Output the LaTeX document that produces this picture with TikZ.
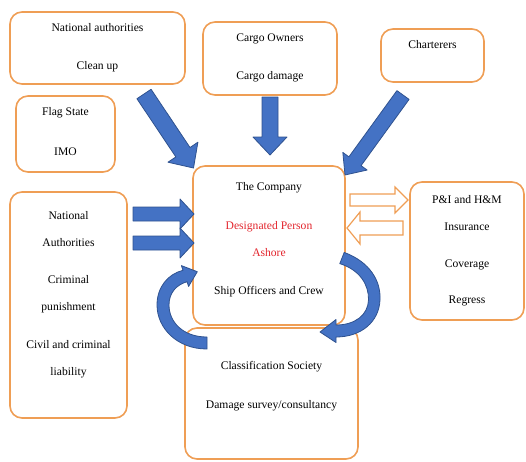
\documentclass[tikz,border=0pt]{standalone}
\usepackage{fontspec}
\setmainfont{Liberation Serif}
\usepackage{tikz}
\usetikzlibrary{arrows.meta,positioning,calc}
\usepackage{xcolor}
\definecolor{BoxOrange}{HTML}{EF9E55}
\definecolor{ArrowBlue}{HTML}{4472C4}
\definecolor{ArrowEdge}{HTML}{2F528F}
\definecolor{DpRed}{HTML}{E3262E}
% block arrow: [style]{tail}{tip}{half shaft}{half head}{head length}
\newcommand{\fatarrow}[6][]{%
  \path ($(#3)!#6!(#2)$) coordinate (fa-base);
  \draw[#1] ($(#2)!#4!90:(#3)$) -- ($(fa-base)!#4!-90:(#2)$) -- ($(fa-base)!#5!-90:(#2)$) -- (#3)
    -- ($(fa-base)!#5!90:(#2)$) -- ($(fa-base)!#4!90:(#2)$) -- ($(#2)!#4!-90:(#3)$) -- cycle;
}
\tikzset{
  orgbox/.style={draw=BoxOrange, line width=1.6pt, rounded corners=12pt, fill=white},
  boxtext/.style={inner sep=0pt, align=center, font=\fontsize{11.6}{27}\selectfont},
  blockarr/.style={fill=ArrowBlue, draw=ArrowEdge, line width=0.8pt, line join=round},
  hollowarr/.style={fill=white, draw=BoxOrange, line width=1.2pt},
}

\begin{document}
\begin{tikzpicture}[x=1pt, y=-1pt]
  \useasboundingbox (0,0) rectangle (526,461);
  % parties
  \node[orgbox, minimum width=175pt, minimum height=72pt] (natclean) at (97.5,48) {};
  \node[orgbox, minimum width=134pt, minimum height=73pt] (cargo) at (270,58.5) {};
  \node[orgbox, minimum width=103pt, minimum height=53pt] (charter) at (432.5,55.5) {};
  \node[orgbox, minimum width=99pt, minimum height=76pt] (flag) at (65.5,134) {};
  \node[orgbox, minimum width=152pt, minimum height=159pt] (company) at (269,245.5) {};
  \node[orgbox, minimum width=117pt, minimum height=226pt] (natcrim) at (68.5,305) {};
  \node[orgbox, minimum width=114pt, minimum height=138pt] (pandi) at (467,251) {};
  \node[orgbox, minimum width=173pt, minimum height=131pt] (classsoc) at (271.5,393.5) {};

  \node[boxtext, below=12pt of natclean.north] (natclean-t) {National authorities\\[11pt]Clean up};
  \node[boxtext, below=12pt of cargo.north] (cargo-t) {Cargo Owners\\[11pt]Cargo damage};
  \node[boxtext, below=12pt of charter.north] (charter-t) {Charterers};
  \node[boxtext, below=12pt of flag.north] (flag-t) {Flag State\\[13pt]IMO};
  \node[boxtext, below=17pt of company.north] (company-t) {The Company\\[12pt]
    \textcolor{DpRed}{Designated Person}\\\textcolor{DpRed}{Ashore}\\[11pt]Ship Officers and Crew};
  \node[boxtext, below=20pt of natcrim.north] (natcrim-t) {National\\Authorities\\[10pt]
    Criminal\\punishment\\[11pt]Civil and criminal\\liability};
  \node[boxtext, below=14pt of pandi.north] (pandi-t) {P\&I and H\&M\\Insurance\\[10pt]Coverage\\[9pt]Regress};
  \node[boxtext, below=34pt of classsoc.north] (classsoc-t) {Classification Society\\[12pt]Damage survey/consultancy};

  % arrows into the company
  \coordinate (a1-s) at (144,94);   \coordinate (a1-e) at (193.5,168);
  \coordinate (a2-s) at (270,97);   \coordinate (a2-e) at (270,155);
  \coordinate (a3-s) at (403,95);   \coordinate (a3-e) at (345,175);
  \coordinate (a4-s) at (133,214);  \coordinate (a4-e) at (194,214);
  \coordinate (a5-s) at (133,243);  \coordinate (a5-e) at (194,243);
  \fatarrow[blockarr]{a1-s}{a1-e}{8.5pt}{18pt}{19pt}
  \fatarrow[blockarr]{a2-s}{a2-e}{8pt}{17pt}{18pt}
  \fatarrow[blockarr]{a3-s}{a3-e}{7.5pt}{15pt}{17pt}
  \fatarrow[blockarr]{a4-s}{a4-e}{7pt}{15pt}{14pt}
  \fatarrow[blockarr]{a5-s}{a5-e}{7pt}{15pt}{14pt}

  % insurance in and out
  \coordinate (i1-s) at (350,200);  \coordinate (i1-e) at (408,200);
  \coordinate (i2-s) at (403,228);  \coordinate (i2-e) at (347,228);
  \fatarrow[hollowarr]{i1-s}{i1-e}{6pt}{13pt}{13pt}
  \fatarrow[hollowarr]{i2-s}{i2-e}{7pt}{16pt}{13pt}

  % class society <-> company
  \filldraw[blockarr] (207,349) .. controls (177,349) and (157,328) .. (157,305)
    .. controls (157,287) and (168,274) .. (183,270.3) -- (181.4,265.6) -- (197.3,271.7)
    -- (188.6,286.4) -- (187,281.7) .. controls (176,285) and (169,293) .. (169,305)
    .. controls (169,322) and (183,337) .. (207,337) -- cycle;
  \filldraw[blockarr] (344.2,252.4) .. controls (370,262) and (381,281) .. (380,300)
    .. controls (379,322) and (361,337) .. (336,337) -- (336,342.5) -- (320,332) -- (336,319.5)
    -- (336,325) .. controls (355,325) and (368,315) .. (368.5,300)
    .. controls (369,285) and (360,270) .. (339.8,263.6) -- cycle;
\end{tikzpicture}
\end{document}
